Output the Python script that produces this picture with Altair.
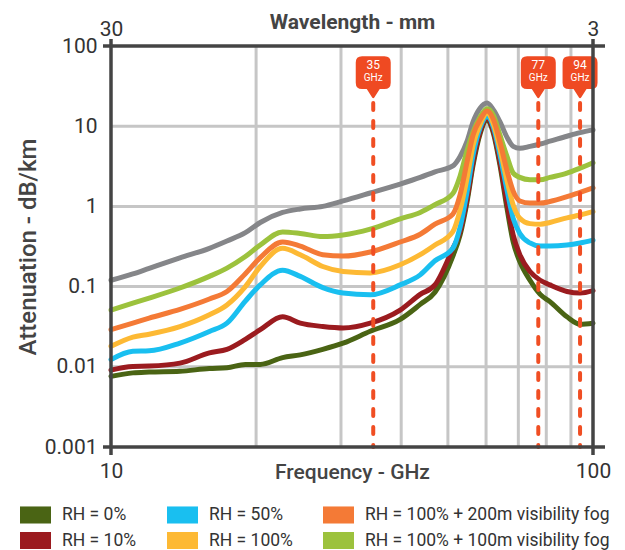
import altair as alt
import pandas as pd

# ---------------- data ----------------
freqs = [10, 11.1, 12, 13.9, 16, 17.4, 19, 20.4, 22.7, 24.7, 27.5, 30.3, 34.5, 39.8, 43.8, 47,
         51.2, 53, 54.8, 56.4, 58.3, 60.3, 62.2, 64.1, 66.3, 68.3, 70.5, 74, 77.7, 81.4, 88.3, 94, 100]

gray_curve = [0.12, 0.144, 0.169, 0.228, 0.30, 0.37, 0.47, 0.63, 0.84, 0.93, 1.0, 1.17, 1.47, 1.9, 2.3, 2.7,
              3.2, 4.2, 6.5, 11.4, 16.8, 19.5, 15.9, 11.4, 7.3, 5.6, 5.3, 5.6, 6.0, 6.5, 7.5, 8.3, 9.0]
rh0 = [0.0076, 0.0084, 0.0086, 0.0088, 0.0095, 0.0097, 0.0107, 0.0107, 0.013, 0.0141, 0.0165, 0.0197, 0.0277,
       0.039, 0.06, 0.085, 0.24, 0.44, 1.15, 3.3, 8.0, 12.0, 8.0, 3.3, 0.95, 0.36, 0.205, 0.12, 0.08, 0.065,
       0.042, 0.034, 0.035]
rh10 = [0.0091, 0.0101, 0.0102, 0.0111, 0.0149, 0.0165, 0.022, 0.029, 0.042, 0.035, 0.0318, 0.0305, 0.035,
        0.051, 0.08, 0.105, 0.3, 0.485, 1.26, 3.6, 8.5, 12.6, 8.5, 3.6, 1.1, 0.44, 0.25, 0.154, 0.12, 0.105,
        0.087, 0.083, 0.089]
rh50 = [0.0123, 0.0156, 0.0158, 0.0198, 0.0276, 0.035, 0.066, 0.105, 0.16, 0.134, 0.097, 0.083, 0.079, 0.105,
        0.14, 0.21, 0.30, 0.55, 1.53, 4.4, 9.5, 13.1, 9.5, 4.4, 1.6, 0.71, 0.46, 0.35, 0.32, 0.32, 0.33, 0.35, 0.38]
rh100 = [0.018, 0.0235, 0.0255, 0.0317, 0.0445, 0.059, 0.1, 0.178, 0.30, 0.25, 0.178, 0.154, 0.148, 0.187,
         0.25, 0.33, 0.485, 0.9, 2.26, 5.8, 10.5, 14.5, 10.5, 5.3, 2.1, 1.04, 0.71, 0.61, 0.6, 0.63, 0.72, 0.78, 0.86]
fog200 = [0.029, 0.035, 0.0405, 0.052, 0.07, 0.087, 0.145, 0.23, 0.36, 0.32, 0.25, 0.24, 0.27, 0.36, 0.45,
          0.6, 0.8, 1.4, 3.6, 7.8, 12.0, 15.5, 12.0, 6.4, 2.8, 1.55, 1.17, 1.1, 1.1, 1.15, 1.32, 1.5, 1.7]
fog100 = [0.051, 0.0624, 0.072, 0.096, 0.134, 0.17, 0.237, 0.33, 0.48, 0.46, 0.42, 0.44, 0.52, 0.7, 0.84,
          1.05, 1.45, 2.4, 5.0, 8.5, 13.0, 16.5, 13.5, 7.8, 4.2, 2.6, 2.3, 2.15, 2.15, 2.3, 2.6, 3.0, 3.5]

series_names = ["RH = 0%", "RH = 10%", "RH = 50%", "RH = 100%",
                "RH = 100% + 200m visibility fog", "RH = 100% + 100m visibility fog"]
series_values = [rh0, rh10, rh50, rh100, fog200, fog100]
series_colors = ["#4A6414", "#9B1B1F", "#19BFF0", "#FDB934", "#F47A36", "#9CC23D"]
gray_color = "#858689"

draw_order = [0, 1, 2, 3, 5, 4]

x_domain = [10, 100]
y_domain = [0.001, 100]
x_ticks = [10, 100]
y_ticks = [100, 10, 1, 0.1, 0.01, 0.001]
grid_freqs = [20, 30, 40, 50, 60, 70, 80, 90]
grid_atten = [0.01, 0.1, 1, 10]
marker_freqs = [35, 77, 94]

# ---------------- tables ----------------
rows = []
for i in draw_order:
    for f, v in zip(freqs, series_values[i]):
        rows.append({"freq": f, "value": v, "series": series_names[i]})
df = pd.DataFrame(rows)
df_gray = pd.DataFrame({"freq": freqs, "value": gray_curve})

W, H = 482, 401
FONT = "Roboto"
xs = alt.Scale(type="log", domain=x_domain, nice=False)
ys = alt.Scale(type="log", domain=y_domain, nice=False)
cscale = alt.Scale(domain=series_names, range=series_colors)

BADGE = ("M-0.62,-0.88 L0.62,-0.88 Q0.97,-0.88 0.97,-0.53 L0.97,0.59 Q0.97,0.94 0.62,0.94 "
         "L0.36,0.94 L0.06,1.42 Q0,1.5 -0.06,1.42 L-0.36,0.94 L-0.62,0.94 Q-0.97,0.94 -0.97,0.59 "
         "L-0.97,-0.53 Q-0.97,-0.88 -0.62,-0.88 Z")
SWATCH = "M-1,-0.55L1,-0.55L1,0.55L-1,0.55Z"

grid_color = "#C6C6C6"
frame_color = "#444444"
marker_color = "#EF4A22"

df_gf = pd.DataFrame({"f": grid_freqs})
df_ga = pd.DataFrame({"a": grid_atten})
df_mk = pd.DataFrame({"f": marker_freqs})

grid_v = alt.Chart(df_gf).mark_rule(color=grid_color, strokeWidth=3).encode(
    x=alt.X("f:Q", scale=xs, axis=None), y=alt.value(0), y2=alt.value(H))
grid_h = alt.Chart(df_ga).mark_rule(color=grid_color, strokeWidth=3).encode(
    y=alt.Y("a:Q", scale=ys, axis=None), x=alt.value(0), x2=alt.value(W))

gray_line = alt.Chart(df_gray).mark_line(color=gray_color, strokeWidth=5, interpolate="monotone",
                                          strokeJoin="round", strokeCap="round").encode(
    x=alt.X("freq:Q", scale=xs, axis=None),
    y=alt.Y("value:Q", scale=ys, axis=None))

lines = alt.Chart(df).mark_line(strokeWidth=5, interpolate="monotone",
                                strokeJoin="round", strokeCap="round").encode(
    x=alt.X("freq:Q", scale=xs,
            axis=alt.Axis(values=x_ticks, format="~g", labelFlush=False, ticks=False, domain=False,
                          grid=False, labelFontSize=21, labelColor="#333333", labelPadding=30,
                          labelBaseline="alphabetic", title="Frequency - GHz", titleFontSize=21,
                          titleFontWeight=500, titleColor="#444444", titleY=31,
                          titleBaseline="alphabetic")),
    y=alt.Y("value:Q", scale=ys,
            axis=alt.Axis(values=y_ticks, format="~g", ticks=False, domain=False, grid=False,
                          labelFontSize=21, labelColor="#333333", labelPadding=14,
                          title="Attenuation - dB/km", titleFontSize=24, titleFontWeight=500,
                          titleColor="#444444", titleX=-76, titleY=H / 2, titleAngle=270,
                          titleBaseline="alphabetic")),
    color=alt.Color("series:N", scale=cscale, legend=None),
    detail="series:N")

markers = alt.Chart(df_mk).mark_rule(color="#F04E23", strokeWidth=4, strokeDash=[7, 11],
                                     strokeCap="round").encode(
    x=alt.X("f:Q", scale=xs, axis=None), y=alt.value(57), y2=alt.value(H))
badges = alt.Chart(df_mk).mark_point(shape=BADGE, filled=True, size=1300, color=marker_color,
                                     opacity=1, strokeWidth=0).encode(
    x=alt.X("f:Q", scale=xs, axis=None), y=alt.value(26))
badge_num = alt.Chart(df_mk).mark_text(color="white", fontSize=12, font=FONT).encode(
    x=alt.X("f:Q", scale=xs, axis=None), y=alt.value(19), text=alt.Text("f:Q", format="d"))
badge_unit = alt.Chart(df_mk).mark_text(color="white", fontSize=10, font=FONT).encode(
    x=alt.X("f:Q", scale=xs, axis=None), y=alt.value(32), text=alt.value("GHz"))

frame_h = alt.Chart(pd.DataFrame({"a": y_domain})).mark_rule(color=frame_color, strokeWidth=3.5).encode(
    y=alt.Y("a:Q", scale=ys, axis=None), x=alt.value(-8), x2=alt.value(W + 12))
frame_v = alt.Chart(pd.DataFrame({"f": x_domain})).mark_rule(color=frame_color, strokeWidth=3.5).encode(
    x=alt.X("f:Q", scale=xs,
            axis=alt.Axis(orient="top", values=x_ticks, labelExpr="format(300/datum.value,'~g')",
                          labelFlush=False, ticks=False, domain=False, grid=False, labelFontSize=21,
                          labelColor="#333333", labelPadding=11, labelBaseline="alphabetic",
                          title="Wavelength - mm", titleFontSize=21, titleFontWeight="bold",
                          titleColor="#444444", titleY=-18, titleBaseline="alphabetic")),
    y=alt.value(-7), y2=alt.value(H + 8))

legend_layer = alt.Chart(df).transform_filter("false").mark_point(
    shape=SWATCH, filled=True, opacity=1).encode(
    x=alt.X("freq:Q", scale=xs, axis=None),
    y=alt.Y("value:Q", scale=ys, axis=None),
    color=alt.Color("series:N", scale=cscale,
                    legend=alt.Legend(title=None, orient="none", legendX=-91, legendY=453, columns=3,
                                      columnPadding=30, rowPadding=1, symbolType=SWATCH,
                                      symbolSize=961, symbolStrokeWidth=0, symbolOpacity=1,
                                      labelFontSize=17.5, labelColor="#333333", labelOffset=11,
                                      labelLimit=400, padding=0)))

chart = alt.layer(
    grid_v, grid_h, gray_line, lines, markers, badges, badge_num, badge_unit,
    frame_h, frame_v, legend_layer
).resolve_axis(x="independent", y="independent").resolve_legend(color="independent").properties(
    width=W, height=H,
    padding={"left": 103, "top": 38, "right": 20, "bottom": 103},
    autosize=alt.AutoSizeParams(type="none"),
    background="white",
).configure_view(stroke=None).configure_axis(
    labelFont=FONT, titleFont=FONT
).configure_legend(labelFont=FONT).configure_text(font=FONT)

chart.save("out.html", embed_options={"renderer": "svg", "actions": False})
